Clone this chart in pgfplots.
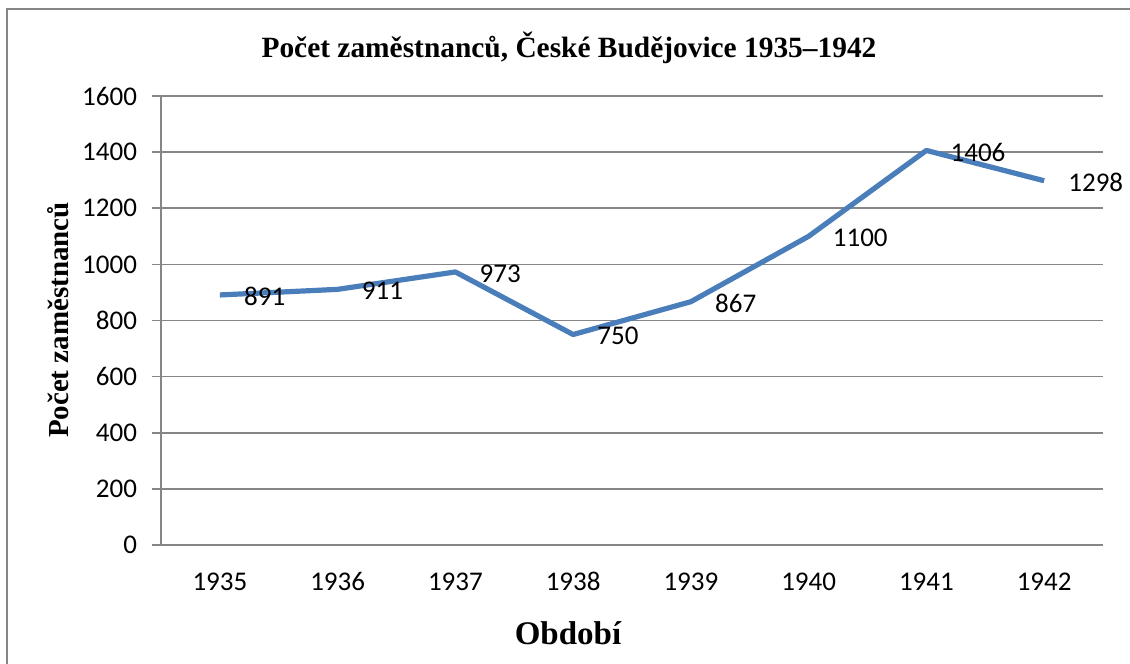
\documentclass[border=0pt]{standalone}
\usepackage{fontspec}
\setmainfont{Liberation Serif}
\newfontfamily\calibri{Carlito}
\usepackage{pgfplots}
\pgfplotsset{compat=1.18}
\definecolor{linebl}{RGB}{74,126,187}
\definecolor{gridg}{RGB}{134,134,134}
\begin{document}
\begin{tikzpicture}[x=1pt,y=1pt]
\useasboundingbox (0,0) rectangle (565,332);
\draw[gridg, line width=0.8pt] (3.5,-20) -- (3.5,327.5) -- (600,327.5);
\begin{axis}[
  at={(80.5pt,59.5pt)}, anchor=south west,
  scale only axis, width=471pt, height=224.5pt,
  xmin=-0.5, xmax=7.5, ymin=0, ymax=1600,
  xtick={0,...,7},
  xticklabels={1935,1936,1937,1938,1939,1940,1941,1942},
  ytick={0,200,...,1600},
  axis x line*=bottom, axis y line*=left,
  x axis line style={gridg, line width=0.8pt, -},
  y axis line style={gridg, line width=0.8pt, -},
  ymajorgrids, major grid style={gridg, line width=0.8pt},
  x tick style={draw=none},
  y tick style={gridg, line width=0.8pt},
  tick align=outside, major tick length=4.5pt,
  ticklabel style={font=\calibri\fontsize{13.5}{15}\selectfont},
  xticklabel style={yshift=-5.5pt, text height=9pt, text depth=0pt},
  yticklabel style={xshift=-4pt},
  /pgf/number format/1000 sep={},
  /pgf/number format/assume math mode=true,
  clip=false,
]
\addplot[linebl, line width=2.6pt, line join=round,
  nodes near coords,
  every node near coord/.append style={anchor=west, xshift=7.5pt, yshift=-0.8pt,
    font=\calibri\fontsize{13.5}{15}\selectfont, text=black},
] coordinates {
  (0,891) (1,911) (2,973) (3,750) (4,867) (5,1100) (6,1406) (7,1298)
};
\end{axis}
\node[font=\bfseries\fontsize{14.7}{17}\selectfont] at (284.5,308) {Počet zaměstnanců, České Budějovice 1935–1942};
\node[font=\bfseries\fontsize{16.5}{19}\selectfont] at (284,15.5) {Období};
\node[font=\bfseries\fontsize{14.5}{17}\selectfont, rotate=90] at (29,172) {Počet zaměstnanců};
\end{tikzpicture}
\end{document}
